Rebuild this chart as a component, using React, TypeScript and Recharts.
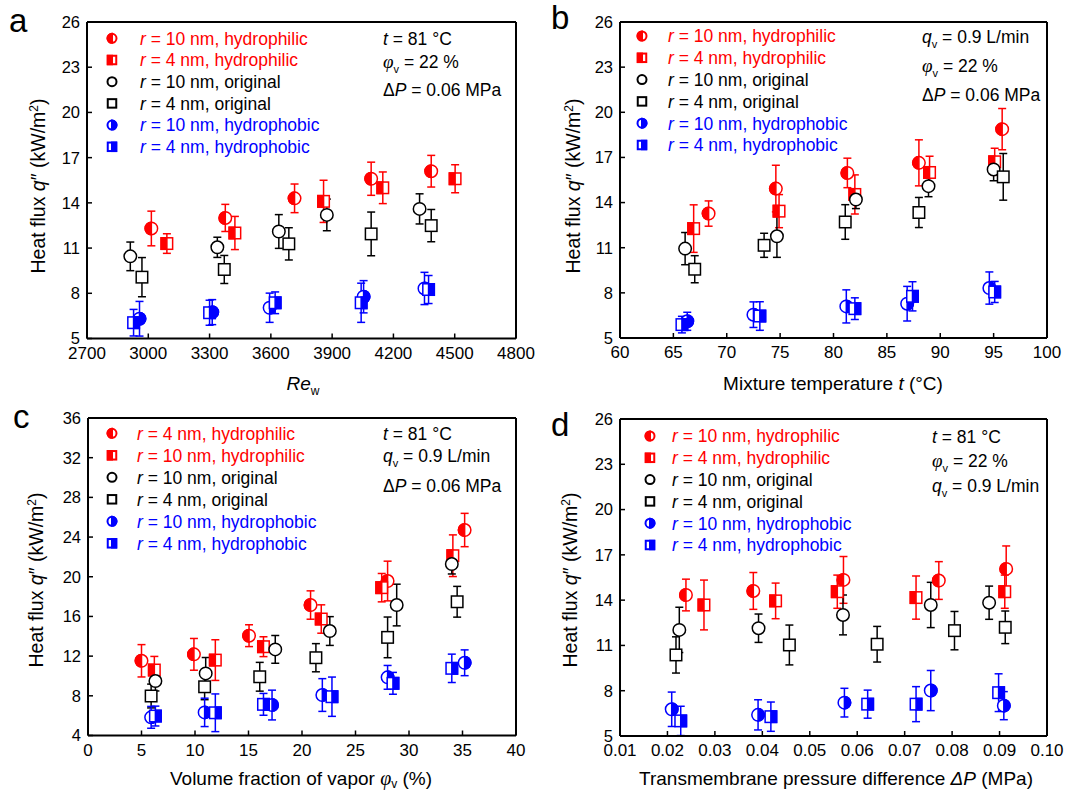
import React from 'react';
import { ScatterChart, Scatter, XAxis, YAxis, ErrorBar, ReferenceLine } from 'recharts';

const RED = '#ff0000';
const BLUE = '#0000ff';
const BLACK = '#000000';
const FONT = "'Liberation Sans', Arial, Helvetica, sans-serif";
const SERIF = "'Liberation Serif', 'Times New Roman', serif";

type Pt = { x: number; y: number; e: number };

// ---------- Panel a : Re_w ----------
const aR10Hydrophilic: Pt[] = [
  { x: 3015, y: 12.3, e: 1.15 }, { x: 3377, y: 13.0, e: 0.9 }, { x: 3716, y: 14.3, e: 0.95 },
  { x: 4091, y: 15.6, e: 1.1 }, { x: 4385, y: 16.1, e: 1.05 },
];
const aR4Hydrophilic: Pt[] = [
  { x: 3091, y: 11.3, e: 0.65 }, { x: 3424, y: 12.0, e: 1.1 }, { x: 3858, y: 14.1, e: 1.4 },
  { x: 4148, y: 15.0, e: 1.05 }, { x: 4502, y: 15.6, e: 0.93 },
];
const aR10Original: Pt[] = [
  { x: 2912, y: 10.45, e: 0.95 }, { x: 3338, y: 11.05, e: 0.67 }, { x: 3639, y: 12.1, e: 1.12 },
  { x: 3874, y: 13.2, e: 1.05 }, { x: 4328, y: 13.6, e: 1.0 },
];
const aR4Original: Pt[] = [
  { x: 2969, y: 9.07, e: 1.3 }, { x: 3372, y: 9.58, e: 0.93 }, { x: 3688, y: 11.28, e: 1.07 },
  { x: 4091, y: 11.94, e: 1.45 }, { x: 4385, y: 12.49, e: 1.07 },
];
const aR10Hydrophobic: Pt[] = [
  { x: 2957, y: 6.31, e: 1.15 }, { x: 3313, y: 6.75, e: 0.83 }, { x: 3594, y: 7.04, e: 0.97 },
  { x: 4054, y: 7.77, e: 1.07 }, { x: 4352, y: 8.32, e: 1.07 },
];
const aR4Hydrophobic: Pt[] = [
  { x: 2928, y: 6.05, e: 0.88 }, { x: 3300, y: 6.71, e: 0.83 }, { x: 3621, y: 7.37, e: 0.72 },
  { x: 4042, y: 7.37, e: 1.3 }, { x: 4372, y: 8.25, e: 0.93 },
];

// ---------- Panel b : mixture temperature ----------
const bR10Hydrophilic: Pt[] = [
  { x: 68.3, y: 13.27, e: 0.84 }, { x: 74.6, y: 14.93, e: 1.55 }, { x: 81.3, y: 15.97, e: 0.98 },
  { x: 88.0, y: 16.64, e: 1.53 }, { x: 95.8, y: 18.88, e: 1.37 },
];
const bR4Hydrophilic: Pt[] = [
  { x: 66.9, y: 12.27, e: 1.58 }, { x: 74.9, y: 13.43, e: 1.1 }, { x: 82.0, y: 14.54, e: 1.3 },
  { x: 89.0, y: 16.0, e: 1.08 }, { x: 95.1, y: 16.71, e: 0.9 },
];
const bR10Original: Pt[] = [
  { x: 66.1, y: 10.94, e: 1.07 }, { x: 74.7, y: 11.76, e: 1.4 }, { x: 82.1, y: 14.2, e: 0.6 },
  { x: 88.9, y: 15.09, e: 0.7 }, { x: 95.0, y: 16.2, e: 0.75 },
];
const bR4Original: Pt[] = [
  { x: 67.0, y: 9.57, e: 0.9 }, { x: 73.5, y: 11.16, e: 0.8 }, { x: 81.1, y: 12.71, e: 1.15 },
  { x: 88.0, y: 13.34, e: 1.0 }, { x: 95.9, y: 15.71, e: 1.55 },
];
const bR10Hydrophobic: Pt[] = [
  { x: 66.3, y: 6.11, e: 0.6 }, { x: 72.5, y: 6.55, e: 0.85 }, { x: 81.2, y: 7.1, e: 1.1 },
  { x: 86.9, y: 7.28, e: 1.15 }, { x: 94.6, y: 8.32, e: 1.07 },
];
const bR4Hydrophobic: Pt[] = [
  { x: 65.8, y: 5.89, e: 0.55 }, { x: 73.1, y: 6.46, e: 0.95 }, { x: 82.0, y: 6.95, e: 0.72 },
  { x: 87.4, y: 7.77, e: 0.97 }, { x: 95.1, y: 8.06, e: 0.7 },
];

// ---------- Panel c : volume fraction of vapor ----------
const cR4Hydrophilic: Pt[] = [
  { x: 5.0, y: 11.53, e: 1.63 }, { x: 9.9, y: 12.18, e: 1.6 }, { x: 15.05, y: 14.06, e: 1.1 },
  { x: 20.8, y: 17.15, e: 1.43 }, { x: 28.0, y: 19.57, e: 2.0 }, { x: 35.2, y: 24.71, e: 1.68 },
];
const cR10Hydrophilic: Pt[] = [
  { x: 6.2, y: 10.6, e: 1.37 }, { x: 11.9, y: 11.6, e: 2.05 }, { x: 16.4, y: 12.95, e: 1.0 },
  { x: 21.8, y: 15.74, e: 1.43 }, { x: 27.45, y: 18.9, e: 1.43 }, { x: 34.1, y: 22.12, e: 2.1 },
];
const cR10Original: Pt[] = [
  { x: 6.3, y: 9.49, e: 1.0 }, { x: 11.0, y: 10.26, e: 1.6 }, { x: 17.5, y: 12.68, e: 1.4 },
  { x: 22.6, y: 14.53, e: 1.45 }, { x: 28.85, y: 17.15, e: 2.1 }, { x: 34.0, y: 21.28, e: 1.0 },
];
const cR4Original: Pt[] = [
  { x: 5.9, y: 7.98, e: 1.2 }, { x: 10.9, y: 8.91, e: 1.3 }, { x: 16.05, y: 9.92, e: 1.45 },
  { x: 21.3, y: 11.84, e: 1.42 }, { x: 28.0, y: 13.89, e: 2.05 }, { x: 34.5, y: 17.48, e: 1.55 },
];
const cR10Hydrophobic: Pt[] = [
  { x: 5.9, y: 5.83, e: 1.1 }, { x: 10.9, y: 6.33, e: 1.43 }, { x: 17.2, y: 7.07, e: 1.5 },
  { x: 21.9, y: 8.08, e: 1.65 }, { x: 28.0, y: 9.86, e: 1.2 }, { x: 35.2, y: 11.33, e: 1.3 },
];
const cR4Hydrophobic: Pt[] = [
  { x: 6.3, y: 5.96, e: 1.0 }, { x: 11.9, y: 6.29, e: 1.9 }, { x: 16.4, y: 7.14, e: 1.1 },
  { x: 22.8, y: 7.91, e: 1.98 }, { x: 28.5, y: 9.26, e: 1.1 }, { x: 34.0, y: 10.77, e: 1.43 },
];

// ---------- Panel d : transmembrane pressure difference ----------
const dR10Hydrophilic: Pt[] = [
  { x: 0.0239, y: 14.34, e: 1.05 }, { x: 0.0381, y: 14.61, e: 1.22 }, { x: 0.0571, y: 15.34, e: 1.55 },
  { x: 0.0772, y: 15.3, e: 1.25 }, { x: 0.0914, y: 16.07, e: 1.52 },
];
const dR4Hydrophilic: Pt[] = [
  { x: 0.0277, y: 13.68, e: 1.65 }, { x: 0.0428, y: 13.95, e: 1.18 }, { x: 0.0558, y: 14.56, e: 1.1 },
  { x: 0.0724, y: 14.17, e: 1.43 }, { x: 0.0911, y: 14.56, e: 1.1 },
];
const dR10Original: Pt[] = [
  { x: 0.0225, y: 12.03, e: 1.5 }, { x: 0.0392, y: 12.14, e: 0.94 }, { x: 0.057, y: 13.02, e: 1.32 },
  { x: 0.0755, y: 13.68, e: 1.5 }, { x: 0.0878, y: 13.83, e: 1.1 },
];
const dR4Original: Pt[] = [
  { x: 0.0218, y: 10.37, e: 1.2 }, { x: 0.0457, y: 11.03, e: 1.32 }, { x: 0.0642, y: 11.08, e: 1.18 },
  { x: 0.0805, y: 11.98, e: 1.27 }, { x: 0.0912, y: 12.2, e: 1.08 },
];
const dR10Hydrophobic: Pt[] = [
  { x: 0.0209, y: 6.77, e: 1.14 }, { x: 0.0391, y: 6.4, e: 1.0 }, { x: 0.0573, y: 7.21, e: 0.95 },
  { x: 0.0755, y: 8.01, e: 1.33 }, { x: 0.0909, y: 7.01, e: 0.93 },
];
const dR4Hydrophobic: Pt[] = [
  { x: 0.0228, y: 6.0, e: 0.97 }, { x: 0.0418, y: 6.28, e: 0.97 }, { x: 0.0622, y: 7.11, e: 0.93 },
  { x: 0.0724, y: 7.11, e: 1.16 }, { x: 0.0898, y: 7.87, e: 1.25 },
];

// ---------- ticks ----------
const yTicks5to26 = [5, 8, 11, 14, 17, 20, 23, 26];
const aXTicks = [2700, 3000, 3300, 3600, 3900, 4200, 4500, 4800];
const bXTicks = [60, 65, 70, 75, 80, 85, 90, 95, 100];
const cXTicks = [0, 5, 10, 15, 20, 25, 30, 35, 40];
const cYTicks = [4, 8, 12, 16, 20, 24, 28, 32, 36];
const dXTicks = [0.01, 0.02, 0.03, 0.04, 0.05, 0.06, 0.07, 0.08, 0.09, 0.1];

type Shape = 'circle' | 'square';
type Fill = 'left' | 'right' | 'none';
type SeriesDef = { label: string; data: Pt[]; color: string; shape: Shape; fill: Fill };

const seriesA: SeriesDef[] = [
  { label: 'r = 10 nm, hydrophilic', data: aR10Hydrophilic, color: RED, shape: 'circle', fill: 'left' },
  { label: 'r = 4 nm, hydrophilic', data: aR4Hydrophilic, color: RED, shape: 'square', fill: 'left' },
  { label: 'r = 10 nm, original', data: aR10Original, color: BLACK, shape: 'circle', fill: 'none' },
  { label: 'r = 4 nm, original', data: aR4Original, color: BLACK, shape: 'square', fill: 'none' },
  { label: 'r = 10 nm, hydrophobic', data: aR10Hydrophobic, color: BLUE, shape: 'circle', fill: 'right' },
  { label: 'r = 4 nm, hydrophobic', data: aR4Hydrophobic, color: BLUE, shape: 'square', fill: 'right' },
];
const seriesB: SeriesDef[] = [
  { label: 'r = 10 nm, hydrophilic', data: bR10Hydrophilic, color: RED, shape: 'circle', fill: 'left' },
  { label: 'r = 4 nm, hydrophilic', data: bR4Hydrophilic, color: RED, shape: 'square', fill: 'left' },
  { label: 'r = 10 nm, original', data: bR10Original, color: BLACK, shape: 'circle', fill: 'none' },
  { label: 'r = 4 nm, original', data: bR4Original, color: BLACK, shape: 'square', fill: 'none' },
  { label: 'r = 10 nm, hydrophobic', data: bR10Hydrophobic, color: BLUE, shape: 'circle', fill: 'right' },
  { label: 'r = 4 nm, hydrophobic', data: bR4Hydrophobic, color: BLUE, shape: 'square', fill: 'right' },
];
const seriesC: SeriesDef[] = [
  { label: 'r = 4 nm, hydrophilic', data: cR4Hydrophilic, color: RED, shape: 'circle', fill: 'left' },
  { label: 'r = 10 nm, hydrophilic', data: cR10Hydrophilic, color: RED, shape: 'square', fill: 'left' },
  { label: 'r = 10 nm, original', data: cR10Original, color: BLACK, shape: 'circle', fill: 'none' },
  { label: 'r = 4 nm, original', data: cR4Original, color: BLACK, shape: 'square', fill: 'none' },
  { label: 'r = 10 nm, hydrophobic', data: cR10Hydrophobic, color: BLUE, shape: 'circle', fill: 'right' },
  { label: 'r = 4 nm, hydrophobic', data: cR4Hydrophobic, color: BLUE, shape: 'square', fill: 'right' },
];
const seriesD: SeriesDef[] = [
  { label: 'r = 10 nm, hydrophilic', data: dR10Hydrophilic, color: RED, shape: 'circle', fill: 'left' },
  { label: 'r = 4 nm, hydrophilic', data: dR4Hydrophilic, color: RED, shape: 'square', fill: 'left' },
  { label: 'r = 10 nm, original', data: dR10Original, color: BLACK, shape: 'circle', fill: 'none' },
  { label: 'r = 4 nm, original', data: dR4Original, color: BLACK, shape: 'square', fill: 'none' },
  { label: 'r = 10 nm, hydrophobic', data: dR10Hydrophobic, color: BLUE, shape: 'circle', fill: 'right' },
  { label: 'r = 4 nm, hydrophobic', data: dR4Hydrophobic, color: BLUE, shape: 'square', fill: 'right' },
];

function Marker({ cx, cy, shape, fill, color, size, sw }: { cx: number; cy: number; shape: Shape; fill: Fill; color: string; size: number; sw: number }) {
  const r = size / 2;
  if (cx == null || cy == null || isNaN(cx) || isNaN(cy)) return <g />;
  if (shape === 'circle') {
    const d =
      fill === 'left'
        ? `M${cx},${cy - r} A${r},${r} 0 0 0 ${cx},${cy + r} Z`
        : `M${cx},${cy - r} A${r},${r} 0 0 1 ${cx},${cy + r} Z`;
    return (
      <g>
        <circle cx={cx} cy={cy} r={r} fill="#fff" stroke={color} strokeWidth={sw} />
        {fill !== 'none' && <path d={d} fill={color} stroke={color} strokeWidth={sw} />}
      </g>
    );
  }
  return (
    <g>
      <rect x={cx - r} y={cy - r} width={size} height={size} fill="#fff" stroke={color} strokeWidth={sw} />
      {fill !== 'none' && (
        <rect x={fill === 'left' ? cx - r : cx} y={cy - r} width={r} height={size} fill={color} stroke={color} strokeWidth={sw} />
      )}
    </g>
  );
}

type PanelProps = {
  left: number; top: number; width: number; height: number;
  margin: { top: number; right: number; bottom: number; left: number };
  xDomain: [number, number]; xTicks: number[]; xFmt?: (v: number) => string;
  yDomain: [number, number]; yTicks: number[];
  series: SeriesDef[];
};

function Panel({ left, top, width, height, margin, xDomain, xTicks, xFmt, yDomain, yTicks, series }: PanelProps) {
  return (
    <div style={{ position: 'absolute', left, top }}>
      <ScatterChart width={width} height={height} margin={margin}>
        <XAxis
          type="number" dataKey="x" domain={xDomain} ticks={xTicks} interval={0}
          tickFormatter={xFmt} allowDataOverflow height={30}
          tickSize={-5} tickMargin={13}
          tick={{ fontSize: 17, fill: '#000' }}
          axisLine={{ stroke: '#000', strokeWidth: 2 }}
          tickLine={{ stroke: '#000', strokeWidth: 1.5 }}
        />
        <YAxis
          type="number" dataKey="y" domain={yDomain} ticks={yTicks} interval={0}
          allowDataOverflow width={60}
          tickSize={-5} tickMargin={12}
          tick={{ fontSize: 16.5, fill: '#000' }}
          axisLine={{ stroke: '#000', strokeWidth: 2 }}
          tickLine={{ stroke: '#000', strokeWidth: 1.5 }}
        />
        <ReferenceLine y={yDomain[1]} stroke="#000" strokeWidth={2} />
        <ReferenceLine x={xDomain[1]} stroke="#000" strokeWidth={2} />
        {series.map((s) => (
          <Scatter
            key={s.label}
            name={s.label}
            data={s.data}
            isAnimationActive={false}
            shape={(p: any) => (
              <Marker cx={p.cx} cy={p.cy} shape={s.shape} fill={s.fill} color={s.color} size={s.shape === 'circle' ? 12.5 : 11.5} sw={1.5} />
            )}
          >
            <ErrorBar dataKey="e" direction="y" width={4} stroke={s.color} strokeWidth={1.5} isAnimationActive={false} />
          </Scatter>
        ))}
      </ScatterChart>
    </div>
  );
}

const FS = 17.5;

function LegendBlock({ series, mx, tx, y0, dy }: { series: SeriesDef[]; mx: number; tx: number; y0: number; dy: number }) {
  return (
    <g>
      {series.map((s, i) => {
        const cy = y0 + i * dy;
        return (
          <g key={i}>
            <Marker cx={mx} cy={cy} shape={s.shape} fill={s.fill} color={s.color} size={s.shape === 'circle' ? 9 : 8.5} sw={2} />
            <text x={tx} y={cy + 6.3} fontSize={FS} fill={s.color}>
              <tspan fontStyle="italic">r</tspan>
              <tspan>{s.label.slice(1)}</tspan>
            </text>
          </g>
        );
      })}
    </g>
  );
}

const Tc = ({ x, y }: { x: number; y: number }) => (
  <text x={x} y={y} fontSize={FS}>
    <tspan fontStyle="italic">t</tspan> = 81 °C
  </text>
);
const Phi = ({ x, y }: { x: number; y: number }) => (
  <text x={x} y={y} fontSize={FS}>
    <tspan fontStyle="italic" fontFamily={SERIF} fontSize={19}>φ</tspan>
    <tspan fontSize={11} dy={5}>v</tspan>
    <tspan dy={-5}> = 22 %</tspan>
  </text>
);
const Qv = ({ x, y }: { x: number; y: number }) => (
  <text x={x} y={y} fontSize={FS}>
    <tspan fontStyle="italic">q</tspan>
    <tspan fontSize={11} dy={5}>v</tspan>
    <tspan dy={-5}> = 0.9 L/min</tspan>
  </text>
);
const Dp = ({ x, y }: { x: number; y: number }) => (
  <text x={x} y={y} fontSize={FS}>
    Δ<tspan fontStyle="italic">P</tspan> = 0.06 MPa
  </text>
);

const YLabel = ({ x, y }: { x: number; y: number }) => (
  <text x={x} y={y} fontSize={19.5} textAnchor="middle" transform={`rotate(-90 ${x} ${y})`}>
    Heat flux <tspan fontStyle="italic">q</tspan>″ (kW/m<tspan fontSize={12} dy={-7}>2</tspan><tspan dy={7}>)</tspan>
  </text>
);

function Overlay() {
  return (
    <svg width={1065} height={792} style={{ position: 'absolute', left: 0, top: 0, pointerEvents: 'none', fontFamily: FONT }}>
      {/* panel letters */}
      <text x={9} y={32} fontSize={33}>a</text>
      <text x={551} y={29} fontSize={33}>b</text>
      <text x={13} y={428} fontSize={33}>c</text>
      <text x={551} y={436} fontSize={33}>d</text>

      {/* legends */}
      <LegendBlock series={seriesA} mx={112} tx={140} y0={38.3} dy={21.7} />
      <LegendBlock series={seriesB} mx={642} tx={668} y0={36} dy={21.8} />
      <LegendBlock series={seriesC} mx={112} tx={137} y0={433.3} dy={22} />
      <LegendBlock series={seriesD} mx={650} tx={672} y0={436} dy={21.8} />

      {/* conditions */}
      <Tc x={383} y={44.5} />
      <Phi x={383} y={68} />
      <Dp x={383} y={96} />

      <Qv x={922} y={43} />
      <Phi x={922} y={72} />
      <Dp x={922} y={101} />

      <Tc x={383} y={440} />
      <Qv x={383} y={462} />
      <Dp x={383} y={491.5} />

      <Tc x={932} y={443} />
      <Phi x={932} y={467} />
      <Qv x={932} y={492} />

      {/* axis labels */}
      <text x={303} y={390} fontSize={19} textAnchor="middle">
        <tspan fontStyle="italic">Re</tspan><tspan fontSize={12} dy={5}>w</tspan>
      </text>
      <text x={833} y={390} fontSize={19} textAnchor="middle">
        Mixture temperature <tspan fontStyle="italic">t</tspan> (°C)
      </text>
      <text x={301} y={784.5} fontSize={19} textAnchor="middle">
        Volume fraction of vapor <tspan fontStyle="italic" fontFamily={SERIF} fontSize={20}>φ</tspan><tspan fontSize={12} dy={3.5}>v</tspan><tspan dy={-3.5}> (%)</tspan>
      </text>
      <text x={836} y={785} fontSize={19} textAnchor="middle">
        Transmembrane pressure difference <tspan fontStyle="italic">ΔP</tspan> (MPa)
      </text>

      <YLabel x={45} y={186} />
      <YLabel x={580} y={186} />
      <YLabel x={43} y={580} />
      <YLabel x={577} y={580} />
    </svg>
  );
}

export default function App() {
  return (
    <div style={{ position: 'absolute', left: 0, top: 0, width: 1065, height: 792, background: '#fff', fontFamily: FONT }}>
      <Panel
        left={0} top={0} width={550} height={395}
        margin={{ top: 22, right: 34, bottom: 26.5, left: 27 }}
        xDomain={[2700, 4800]} xTicks={aXTicks}
        yDomain={[5, 26]} yTicks={yTicks5to26}
        series={seriesA}
      />
      <Panel
        left={530} top={0} width={535} height={395}
        margin={{ top: 22, right: 18, bottom: 27, left: 30 }}
        xDomain={[60, 100]} xTicks={bXTicks}
        yDomain={[5, 26]} yTicks={yTicks5to26}
        series={seriesB}
      />
      <Panel
        left={0} top={395} width={550} height={397}
        margin={{ top: 23, right: 34, bottom: 26.5, left: 28 }}
        xDomain={[0, 40]} xTicks={cXTicks}
        yDomain={[4, 36]} yTicks={cYTicks}
        series={seriesC}
      />
      <Panel
        left={530} top={395} width={535} height={397}
        margin={{ top: 24, right: 18, bottom: 26, left: 30 }}
        xDomain={[0.01, 0.1]} xTicks={dXTicks} xFmt={(v: number) => v.toFixed(2)}
        yDomain={[5, 26]} yTicks={yTicks5to26}
        series={seriesD}
      />
      <Overlay />
    </div>
  );
}
